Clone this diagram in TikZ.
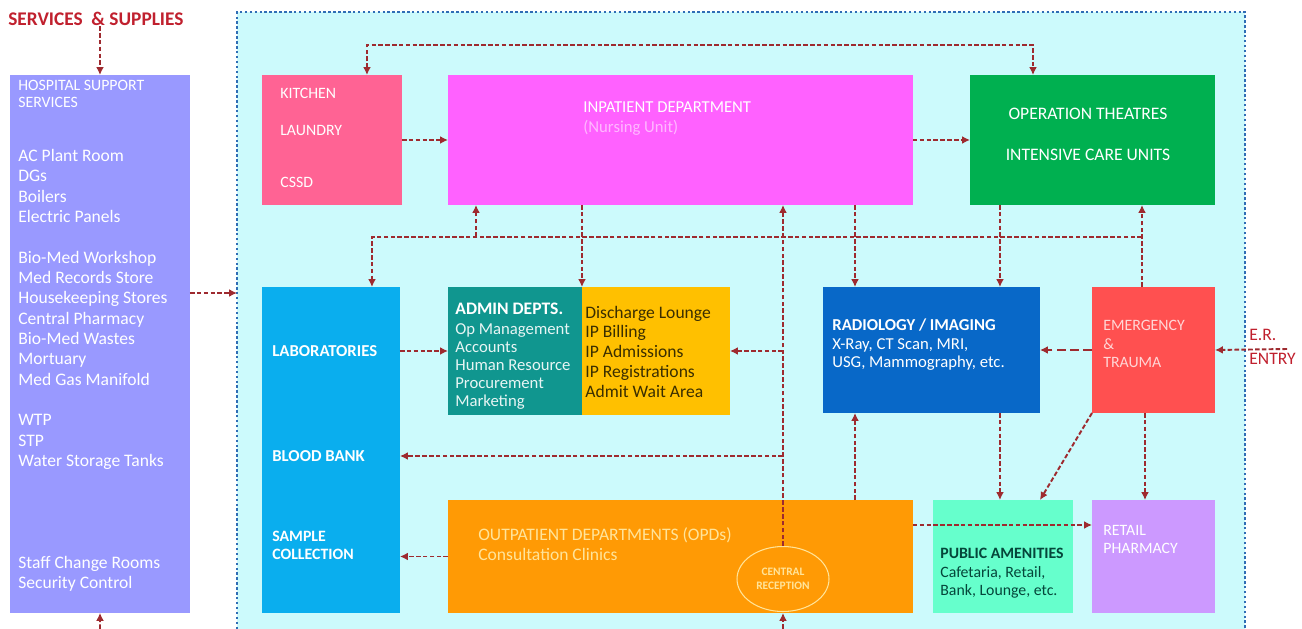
\documentclass[tikz,border=0pt]{standalone}
\usepackage{fontspec}
\setmainfont{Carlito}
\usetikzlibrary{arrows.meta,shapes.geometric}

\definecolor{bgcyan}{HTML}{CCFAFC}
\definecolor{borderblue}{HTML}{2F6DB5}
\definecolor{linkred}{HTML}{9E2A2F}
\definecolor{supportc}{HTML}{9999FF}
\definecolor{kitchenc}{HTML}{FF6394}
\definecolor{inpatc}{HTML}{FF61FF}
\definecolor{otc}{HTML}{00B050}
\definecolor{labc}{HTML}{0AAEEE}
\definecolor{adminc}{HTML}{10968F}
\definecolor{ipc}{HTML}{FFC000}
\definecolor{radc}{HTML}{0868C8}
\definecolor{emerc}{HTML}{FF5050}
\definecolor{opdc}{HTML}{FF9A05}
\definecolor{amenc}{HTML}{66FFCC}
\definecolor{pharmc}{HTML}{CC99FF}
\definecolor{titlered}{HTML}{C0202E}
\definecolor{pinktxt}{HTML}{FFB8FF}
\definecolor{yellowtxt}{HTML}{FFE49A}
\definecolor{emertxt}{HTML}{FFD6D6}
\definecolor{darktxt}{HTML}{3A2E00}
\definecolor{amentxt}{HTML}{05463A}

\tikzset{
  dept/.style={rectangle, inner sep=0pt, outer sep=0pt, anchor=north west},
  lbl/.style={inner sep=0pt, anchor=west, text=white, font=\fontsize{9}{11}\selectfont},
  lines/.style={inner sep=0pt, anchor=north west, align=left, text=white},
  link/.style={draw=linkred, line width=1.1pt, dash pattern=on 2.6pt off 1.3pt},
  biglink/.style={draw=linkred, line width=1.6pt, dash pattern=on 5pt off 2.5pt},
}

\begin{document}
\begin{tikzpicture}[x=0.02cm, y=-0.02cm, >={Latex[length=4.5pt,width=4.5pt]}]
\useasboundingbox (0,0) rectangle (1302,629);

% hospital area
\fill[bgcyan] (237,12) rectangle (1245,629);
\draw[borderblue, line width=1.3pt, dash pattern=on 1.4pt off 1.4pt] (237,629) -- (237,12) -- (1245,12) -- (1245,629);

% departments
\node[dept, fill=supportc, minimum width=3.6cm, minimum height=10.76cm] (support) at (10,75) {};
\node[dept, fill=kitchenc, minimum width=2.8cm, minimum height=2.6cm] (kitchen) at (262,75) {};
\node[dept, fill=inpatc, minimum width=9.3cm, minimum height=2.6cm] (inpatient) at (448,75) {};
\node[dept, fill=otc, minimum width=4.9cm, minimum height=2.6cm] (ot) at (970,75) {};
\node[dept, fill=labc, minimum width=2.76cm, minimum height=6.52cm] (labs) at (262,287) {};
\node[dept, fill=adminc, minimum width=2.68cm, minimum height=2.56cm] (admin) at (448,287) {};
\node[dept, fill=ipc, minimum width=2.96cm, minimum height=2.56cm] (ipserv) at (582,287) {};
\node[dept, fill=radc, minimum width=4.34cm, minimum height=2.52cm] (radiology) at (823,287) {};
\node[dept, fill=emerc, minimum width=2.46cm, minimum height=2.52cm] (emergency) at (1092,287) {};
\node[dept, fill=opdc, minimum width=9.3cm, minimum height=2.26cm] (opd) at (448,500) {};
\node[dept, fill=amenc, minimum width=2.8cm, minimum height=2.26cm] (amenities) at (933,500) {};
\node[dept, fill=pharmc, minimum width=2.46cm, minimum height=2.26cm] (pharmacy) at (1092,500) {};
\node[ellipse, draw=yellowtxt, line width=0.6pt, minimum width=1.84cm, minimum height=1.3cm, inner sep=0pt,
      align=center, text=yellowtxt, font=\bfseries\fontsize{6.5}{8}\selectfont] (reception) at (783,579) {CENTRAL\\RECEPTION};

% texts
\node[inner sep=0pt, anchor=west, text=titlered, font=\bfseries\fontsize{11}{13}\selectfont] (services) at (8,19) {SERVICES~~\& SUPPLIES};
\node[lines, font=\fontsize{9}{9.6}\selectfont] (supporthead) at (18,80) {HOSPITAL SUPPORT\\SERVICES};
\node[lines, font=\fontsize{10}{11.57}\selectfont] (supportlist) at (18,149) {AC Plant Room\\DGs\\Boilers\\Electric Panels\\[11.57pt]Bio-Med Workshop\\Med Records Store\\Housekeeping Stores\\Central Pharmacy\\Bio-Med Wastes\\Mortuary\\Med Gas Manifold\\[11.57pt]WTP\\STP\\Water Storage Tanks\\[46.3pt]Staff Change Rooms\\Security Control};

\node[lbl] (kitchentxt) at (280,93) {KITCHEN};
\node[lbl] (laundry) at (280,130) {LAUNDRY};
\node[lbl] (cssd) at (280,182) {CSSD};

\node[lbl, font=\fontsize{9.5}{11}\selectfont] (inpattxt) at (583,107) {INPATIENT DEPARTMENT};
\node[lbl, text=pinktxt, font=\fontsize{9.5}{11}\selectfont] (nursing) at (583,128) {(Nursing Unit)};

\node[lbl, anchor=center, font=\fontsize{10}{12}\selectfont] (theatres) at (1088,114) {OPERATION THEATRES};
\node[lbl, anchor=center, font=\fontsize{10}{12}\selectfont] (icu) at (1088,155) {INTENSIVE CARE UNITS};

\node[lbl, font=\bfseries\fontsize{9.5}{11}\selectfont] (laboratories) at (272,351) {LABORATORIES};
\node[lbl, font=\bfseries\fontsize{9.5}{11}\selectfont] (bloodbank) at (272,456) {BLOOD BANK};
\node[lines, font=\bfseries\fontsize{9}{10.2}\selectfont] (sample) at (272,531) {SAMPLE\\COLLECTION};

\node[lbl, font=\bfseries\fontsize{10}{11}\selectfont] (admintxt) at (455,309) {ADMIN DEPTS.};
\node[lines, text=white!90!adminc, font=\fontsize{9.5}{10.2}\selectfont] (adminlist) at (455,323.5) {Op Management\\Accounts\\Human Resource\\Procurement\\Marketing};

\node[lines, text=darktxt, font=\fontsize{10}{11.34}\selectfont] (iplist) at (585,305.5) {Discharge Lounge\\IP Billing\\IP Admissions\\IP Registrations\\Admit Wait Area};

\node[lbl, font=\bfseries\fontsize{9.5}{11}\selectfont] (radtxt) at (832,325) {RADIOLOGY / IMAGING};
\node[lines, font=\fontsize{9.5}{10.2}\selectfont] (radlist) at (832,338.5) {X-Ray, CT Scan, MRI,\\USG, Mammography, etc.};

\node[lines, text=emertxt, font=\fontsize{9}{10.5}\selectfont] (emertxt) at (1103,320) {EMERGENCY\\\&\\TRAUMA};

\node[lbl, text=yellowtxt, font=\fontsize{10}{12}\selectfont] (opdtxt) at (478,535) {OUTPATIENT DEPARTMENTS (OPDs)};
\node[lbl, text=yellowtxt, font=\fontsize{10}{12}\selectfont] (clinics) at (478,554) {Consultation Clinics};

\node[lbl, text=amentxt, font=\bfseries\fontsize{9}{11}\selectfont] (amentxt) at (940,553) {PUBLIC AMENITIES};
\node[lines, text=amentxt, font=\fontsize{9}{10.2}\selectfont] (amenlist) at (940,566) {Cafetaria, Retail,\\Bank, Lounge, etc.};

\node[lines, font=\fontsize{9}{10.2}\selectfont] (pharmtxt) at (1103,525) {RETAIL\\PHARMACY};

\node[inner sep=0pt, anchor=west, align=left, text=titlered, font=\fontsize{10}{13.6}\selectfont] (erentry) at (1249,347) {E.R.\\ENTRY};

% free ends
\coordinate (bus) at (0,237);
\coordinate (hospin) at (237,293);
\coordinate (suppbase) at (100,629);
\coordinate (opdbase) at (783,629);
\coordinate (ergate) at (1287,349);

% connectors
\draw[link, ->] (services.south -| support.north) -- (support.north);
\draw[link, ->] (suppbase) -- (support.south);
\draw[link, ->] (support.east |- hospin) -- (hospin);

\draw[link, <->] ([xshift=-0.7cm]kitchen.north east) -- ++(0,-30) -| ([xshift=1.26cm]ot.north west);
\draw[link, ->] (kitchen.east) -- (inpatient.west |- kitchen.east);
\draw[link, ->] (inpatient.east) -- (ot.west);

\draw[link, ->] ([xshift=1cm]emergency.north west) -- ([xshift=1cm]emergency.north west |- ot.south);
\draw[link, ->] ([xshift=1cm]emergency.north west |- bus) -| ([xshift=-0.56cm]labs.north east);
\draw[link, ->] ([xshift=0.56cm]inpatient.south west |- bus) -- ([xshift=0.56cm]inpatient.south west);
\draw[link, ->] (admin.north east |- inpatient.south) -- (admin.north east);
\draw[link, ->] ([xshift=0.64cm]radiology.north west |- inpatient.south) -- ([xshift=0.64cm]radiology.north west);
\draw[link, ->] ([xshift=3.54cm]radiology.north west |- ot.south) -- ([xshift=3.54cm]radiology.north west);

\draw[link, ->] (reception.north) -- (reception.north |- inpatient.south);
\draw[link, ->] (reception.north |- ipserv.east) -- (ipserv.east);
\draw[link, ->] (reception.north |- bloodbank) -- (labs.east |- bloodbank);
\draw[link, ->] (opdbase) -- (opd.south -| opdbase);

\draw[link, ->] (labs.east |- admin.west) -- (admin.west);
\draw[link, ->] (opd.west) -- (labs.east |- opd.west);
\draw[link, ->] ([xshift=0.64cm]radiology.south west |- opd.north) -- ([xshift=0.64cm]radiology.south west);
\draw[link, ->] ([xshift=3.54cm]radiology.south west) -- ([xshift=3.54cm]radiology.south west |- amenities.north);
\draw[link, ->] (emergency.south west) -- ([xshift=2.14cm]amenities.north west);
\draw[link, ->] ([xshift=1.06cm]emergency.south west) -- ([xshift=1.06cm]pharmacy.north west);
\draw[biglink, ->] (emergency.west) -- (radiology.east);
\draw[link, ->] (ergate) -- (emergency.east);
\draw[link, ->] ([yshift=0.63cm]opd.east) -- ([yshift=0.63cm]pharmacy.west);
\end{tikzpicture}
\end{document}
